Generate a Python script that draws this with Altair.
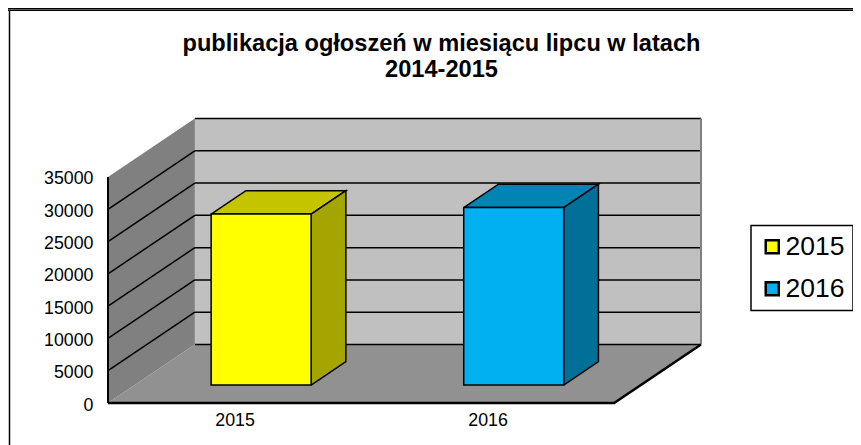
import altair as alt
import pandas as pd

categories = ["2015", "2016"]
values = [26470, 27480]
ticks = [0, 5000, 10000, 15000, 20000, 25000, 30000, 35000]
title_lines = ["publikacja ogłoszeń w miesiącu lipcu w latach", "2014-2015"]
front_colors = ["#FFFF00", "#00B0F0"]
top_colors = ["#C4C400", "#0084B4"]
side_colors = ["#A5A500", "#007099"]
bar_left = [0.302, 1.300]
bar_width = 0.395

FONT = "Liberation Sans"
DX = 0.3432   # depth of the box, in category units
DV = 9056     # depth of the box, in value units
Z0, Z1 = 0.3077, 0.7077
XMAX = 2 + DX
YMAX = 35000 + DV
W, H = 593, 284.5
PAD = {"left": 100, "top": 110.5, "right": 152, "bottom": 42}

xs = alt.Scale(domain=[0, XMAX], nice=False, zero=False)
ys = alt.Scale(domain=[0, YMAX], nice=False, zero=False)

x_axis = alt.Axis(
    values=[0.5, 1.5],
    labelExpr="datum.value < 1 ? '2015' : '2016'",
    title=None, domain=False, ticks=False, grid=False,
    labelFont=FONT, labelFontSize=17.8, labelColor="#000000", labelPadding=8,
)
y_axis = alt.Axis(
    values=ticks,
    format="d",
    title=None, domain=False, ticks=False, grid=False,
    labelFont=FONT, labelFontSize=17.8, labelColor="#000000", labelPadding=15,
    labelOffset=2,
)


def proj(x, v, z):
    return {"x": x + z * DX, "y": v + z * DV}


def poly(points, fill=None, stroke=None, width=1.0):
    rows = [dict(p, i=i) for i, p in enumerate(points)]
    kw = {"strokeWidth": width, "stroke": stroke or "transparent", "clip": False}
    if fill:
        kw["fill"] = fill
    return (
        alt.Chart(pd.DataFrame(rows))
        .mark_line(strokeJoin="miter", **kw)
        .encode(
            x=alt.X("x:Q", scale=xs, axis=x_axis),
            y=alt.Y("y:Q", scale=ys, axis=y_axis),
            order="i:Q",
        )
    )


layers = []
# back wall, left wall, floor
layers.append(poly([proj(0, 0, 1), proj(2, 0, 1), proj(2, 35000, 1), proj(0, 35000, 1), proj(0, 0, 1)], "#C0C0C0"))
layers.append(poly([proj(0, 0, 0), proj(0, 0, 1), proj(0, 35000, 1), proj(0, 35000, 0), proj(0, 0, 0)], "#808080"))
layers.append(poly([proj(0, 0, 0), proj(2, 0, 0), proj(2, 0, 1), proj(0, 0, 1), proj(0, 0, 0)], "#919191"))

# gridlines
for t in ticks:
    if 0 < t < 35000:
        layers.append(poly([proj(0, t, 0), proj(0, t, 1)], None, "#000000", 1.5))
    layers.append(poly([proj(0, t, 1), proj(2, t, 1)], None, "#000000", 1.5))

# box edges
layers.append(poly([proj(2, 0, 1), proj(2, 35000, 1)], None, "#808080", 2))
layers.append(poly([proj(0, 0, 0), proj(0, 35000, 0)], None, "#000000", 2))
layers.append(poly([proj(0, 0, 0), proj(2, 0, 0), proj(2, 0, 1)], None, "#000000", 2.5))

# bars: top and side faces
for k in range(len(categories)):
    l, r, v = bar_left[k], bar_left[k] + bar_width, values[k]
    layers.append(poly([proj(l, v, Z0), proj(r, v, Z0), proj(r, v, Z1), proj(l, v, Z1), proj(l, v, Z0)],
                       top_colors[k], "#000000", 1.5))
    layers.append(poly([proj(r, 0, Z0), proj(r, 0, Z1), proj(r, v, Z1), proj(r, v, Z0), proj(r, 0, Z0)],
                       side_colors[k], "#000000", 1.5))

# bars: front faces, which also give the legend
fronts = pd.DataFrame(
    [
        {
            "cat": categories[k],
            "x": proj(bar_left[k], 0, Z0)["x"],
            "x2": proj(bar_left[k] + bar_width, 0, Z0)["x"],
            "y": proj(0, 0, Z0)["y"],
            "y2": proj(0, values[k], Z0)["y"],
        }
        for k in range(len(categories))
    ]
)
layers.append(
    alt.Chart(fronts)
    .mark_rect(stroke="#000000", strokeWidth=1.5, clip=False)
    .encode(
        x=alt.X("x:Q", scale=xs, axis=x_axis),
        x2="x2:Q",
        y=alt.Y("y:Q", scale=ys, axis=y_axis),
        y2="y2:Q",
        color=alt.Color(
            "cat:N",
            scale=alt.Scale(domain=categories, range=front_colors),
            legend=alt.Legend(
                title=None,
                orient="none",
                legendX=643,
                legendY=107,
                fillColor="#FFFFFF",
                strokeColor="#000000",
                padding=8,
                symbolType="square",
                symbolSize=170,
                symbolStrokeColor="#000000",
                symbolStrokeWidth=2.5,
                labelFont=FONT,
                labelFontSize=26.5,
                labelColor="#000000",
                labelOffset=0,
                rowPadding=15,
            ),
        ),
    )
)

# page frame
frame = pd.DataFrame({"a": [0]})
layers.append(
    alt.Chart(frame).mark_rule(color="#000000", strokeWidth=1.5, clip=False)
    .encode(x=alt.value(-98.5), x2=alt.value(-98.5), y=alt.value(-108), y2=alt.value(326.5))
)
layers.append(
    alt.Chart(frame).mark_rule(color="#000000", strokeWidth=1.5, clip=False)
    .encode(x=alt.value(-100), x2=alt.value(745), y=alt.value(-108.3))
)
layers.append(
    alt.Chart(frame).mark_rule(color="#000000", strokeWidth=2.5, clip=False)
    .encode(x=alt.value(-100), x2=alt.value(745), y=alt.value(-110.5))
)

# title, as two centred text lines
for n, line in enumerate(title_lines):
    layers.append(
        alt.Chart(pd.DataFrame({"t": [line]}))
        .mark_text(font=FONT, fontSize=23.6, fontWeight="bold", color="#000000", align="center", baseline="middle", clip=False)
        .encode(text="t:N", x=alt.value(333.5), y=alt.value(-74.5 + 26 * n))
    )

chart = (
    alt.layer(*layers)
    .resolve_scale(color="independent")
    .properties(
        width=W,
        height=H,
        padding=PAD,
        autosize=alt.AutoSizeParams(type="none"),
        background="#FFFFFF",
    )
    .configure_view(stroke=None)
    .configure_legend(strokeWidth=1.5)
)

chart.save("out.html", embed_options={"renderer": "svg", "actions": False})
